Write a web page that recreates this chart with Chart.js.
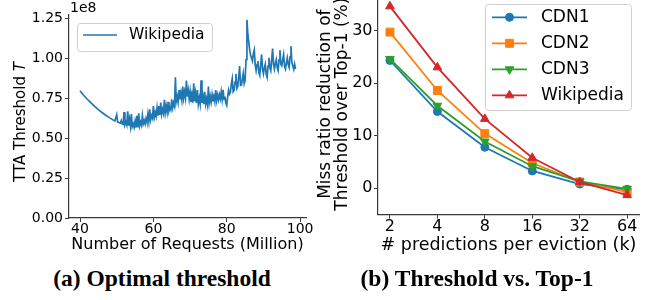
<!DOCTYPE html>
<html>
<head>
<meta charset="utf-8">
<script src="https://cdn.jsdelivr.net/npm/chart.js@4.4.1/dist/chart.umd.min.js"></script>
<style>
html,body{margin:0;padding:0;background:#fff;width:651px;height:300px;overflow:hidden;position:relative;}
#wrapA{position:absolute;left:0;top:0;width:320px;height:262px;}
#wrapB{position:absolute;left:300px;top:-20px;width:351px;height:290px;}
.cap{position:absolute;font-family:"Liberation Serif","Times New Roman",serif;font-weight:bold;font-size:23.5px;line-height:23.5px;white-space:nowrap;text-align:center;color:#000;}
</style>
</head>
<body>
<div id="wrapA"><canvas id="chartA" width="320" height="262"></canvas></div>
<div id="wrapB"><canvas id="chartB" width="351" height="290"></canvas></div>
<div class="cap" style="left:32px;top:267px;width:260px">(a) Optimal threshold</div>
<div class="cap" style="left:347px;top:267px;width:260px">(b) Threshold vs. Top-1</div>
<script>
// ---------- DATA: (a) optimal TTA threshold over time (units of 1e8) ----------
const requestsM = [
  40, 41, 42, 43, 44, 45, 46, 47, 48, 49, 49.5,
  50, 50.25, 50.5, 50.75, 51, 51.25, 51.5, 51.75, 52, 52.25, 52.5, 52.75,
  53, 53.25, 53.5, 53.75, 54, 54.25, 54.5, 54.75, 55, 55.25, 55.5, 55.75,
  56, 56.25, 56.5, 56.75, 57, 57.25, 57.5, 57.75, 58, 58.25, 58.5, 58.75,
  59, 59.25, 59.5, 59.75, 60, 60.25, 60.5, 60.75, 61, 61.25, 61.5, 61.75,
  62, 62.25, 62.5, 62.75, 63, 63.25, 63.5, 63.75, 64, 64.25, 64.5, 64.75,
  65, 65.25, 65.5, 65.75, 66, 66.25, 66.5, 66.75, 67, 67.25, 67.5, 67.75,
  68, 68.25, 68.5, 68.75, 69, 69.25, 69.5, 69.75, 70, 70.25, 70.5, 70.75,
  71, 71.25, 71.5, 71.75, 72, 72.25, 72.5, 72.75, 73, 73.25, 73.5, 73.75,
  74, 74.25, 74.5, 74.75, 75, 75.25, 75.5, 75.75, 76, 76.25, 76.5, 76.75,
  77, 77.25, 77.5, 77.75, 78, 78.25, 78.5, 78.75, 79, 79.25, 79.5, 79.75,
  80, 80.25, 80.5, 80.75, 81, 81.25, 81.5, 81.75, 82, 82.25, 82.5, 82.75,
  83, 83.25, 83.5, 83.75, 84, 84.25, 84.5, 84.75, 85, 85.25, 85.5, 85.75,
  86, 86.25, 86.5, 86.75, 87, 87.25, 87.5, 87.75, 88, 88.25, 88.5, 88.75,
  89, 89.25, 89.5, 89.75, 90, 90.25, 90.5, 90.75, 91, 91.25, 91.5, 91.75,
  92, 92.25, 92.5, 92.75, 93, 93.25, 93.5, 93.75, 94, 94.25, 94.5, 94.75,
  95, 95.25, 95.5, 95.75, 96, 96.25, 96.5, 96.75, 97, 97.25, 97.5, 97.75,
  98, 98.25, 98.5, 98.75
];
const thresholdE8 = [
  0.795, 0.768, 0.743, 0.720, 0.698, 0.678, 0.660, 0.643, 0.628, 0.614, 0.607,
  0.646, 0.600, 0.598, 0.596, 0.594, 0.610, 0.589, 0.586, 0.662, 0.584, 0.600, 0.581,
  0.667, 0.578, 0.620, 0.575, 0.650, 0.572, 0.590, 0.568, 0.605, 0.566, 0.640, 0.566,
  0.655, 0.576, 0.600, 0.580, 0.640, 0.590, 0.610, 0.588, 0.622, 0.600, 0.650, 0.605,
  0.680, 0.615, 0.640, 0.625, 0.700, 0.630, 0.660, 0.636, 0.690, 0.640, 0.700, 0.645,
  0.722, 0.650, 0.680, 0.655, 0.740, 0.660, 0.700, 0.662, 0.726, 0.670, 0.690, 0.676,
  0.742, 0.690, 0.720, 0.700, 0.880, 0.730, 0.760, 0.725, 0.800, 0.742, 0.780, 0.738,
  0.822, 0.750, 0.790, 0.752, 0.860, 0.760, 0.800, 0.745, 0.792, 0.725, 0.770, 0.722,
  0.842, 0.730, 0.780, 0.720, 0.800, 0.712, 0.750, 0.715, 0.862, 0.720, 0.760, 0.712,
  0.790, 0.712, 0.745, 0.710, 0.822, 0.722, 0.760, 0.725, 0.772, 0.730, 0.760, 0.728,
  0.800, 0.736, 0.770, 0.740, 0.772, 0.745, 0.790, 0.742, 0.802, 0.742, 0.760, 0.720,
  0.705, 0.760, 0.800, 0.775, 0.786, 0.840, 0.872, 0.790, 0.800, 0.850, 0.902, 0.810,
  0.822, 0.880, 0.950, 0.830, 0.832, 0.870, 0.905, 0.840, 0.860, 0.990, 1.240, 1.150,
  1.100, 1.050, 1.020, 1.000, 0.982, 1.030, 1.052, 0.960, 0.922, 0.960, 0.982, 0.910,
  0.892, 0.960, 1.022, 0.930, 0.902, 0.940, 0.962, 0.900, 0.880, 0.950, 1.002, 0.940,
  0.922, 0.990, 1.060, 0.960, 0.932, 0.970, 0.992, 0.940, 0.922, 0.990, 1.050, 0.960,
  0.952, 0.990, 1.022, 0.950, 0.932, 0.970, 1.002, 0.960, 0.942, 1.010, 1.075, 0.970,
  0.952, 0.930, 0.962, 0.932
];
const xTicksA = [40, 60, 80, 100];
const yTicksA = [0, 0.25, 0.5, 0.75, 1.0, 1.25];

// ---------- DATA: (b) miss ratio reduction of Threshold over Top-1 (%) ----------
const kValues = [2, 4, 8, 16, 32, 64];
const cdn1 = [24.3, 14.6, 7.8, 3.3, 0.8, -0.2];
const cdn2 = [29.7, 18.6, 10.4, 4.8, 1.2, -0.7];
const cdn3 = [24.6, 15.7, 8.9, 4.2, 1.3, -0.1];
const wikipedia = [34.6, 23.0, 13.2, 5.8, 1.2, -1.3];
const yTicksB = [0, 10, 20, 30];

Chart.defaults.font.family = "'DejaVu Sans', sans-serif";
Chart.defaults.color = '#000';
const AX = '#3a3a3a';
const FONT = "'DejaVu Sans', sans-serif";

function rrect(ctx, x, y, w, h, r) {
  ctx.beginPath();
  ctx.moveTo(x + r, y);
  ctx.lineTo(x + w - r, y); ctx.arcTo(x + w, y, x + w, y + r, r);
  ctx.lineTo(x + w, y + h - r); ctx.arcTo(x + w, y + h, x + w - r, y + h, r);
  ctx.lineTo(x + r, y + h); ctx.arcTo(x, y + h, x, y + h - r, r);
  ctx.lineTo(x, y + r); ctx.arcTo(x, y, x + r, y, r);
  ctx.closePath();
}

const boxLegend = {
  id: 'boxLegend',
  afterDraw(chart, args, o) {
    const ctx = chart.ctx;
    ctx.save();
    rrect(ctx, o.x, o.y, o.w, o.h, 3);
    ctx.fillStyle = 'rgba(255,255,255,0.85)';
    ctx.fill();
    ctx.strokeStyle = '#d0d0d0';
    ctx.lineWidth = 1;
    ctx.stroke();
    chart.data.datasets.forEach((ds, i) => {
      const cy = o.firstY + i * o.rowH;
      ctx.strokeStyle = ds.borderColor;
      ctx.lineWidth = ds.borderWidth;
      ctx.beginPath();
      ctx.moveTo(o.lineX0, cy);
      ctx.lineTo(o.lineX1, cy);
      ctx.stroke();
      if (ds.pointRadius > 0) {
        ctx.fillStyle = ds.backgroundColor;
        ctx.strokeStyle = ds.borderColor;
        ctx.lineWidth = 1;
        Chart.helpers.drawPoint(ctx, {
          pointStyle: ds.pointStyle, rotation: ds.pointRotation || 0,
          radius: ds.pointRadius, borderWidth: 1
        }, (o.lineX0 + o.lineX1) / 2, cy);
      }
      ctx.fillStyle = '#000';
      ctx.font = o.font;
      ctx.textBaseline = 'middle';
      ctx.textAlign = 'left';
      ctx.fillText(ds.label, o.textX, cy);
    });
    ctx.restore();
  }
};

const extraTextA = {
  id: 'extraTextA',
  afterDraw(chart, args, o) {
    const ctx = chart.ctx;
    ctx.save();
    ctx.fillStyle = '#000';
    ctx.font = "14px " + FONT;
    ctx.textBaseline = 'middle';
    ctx.textAlign = 'left';
    ctx.fillText(o.offsetText, 70, 8);
    const fN = "15px " + FONT, fI = "italic 15px " + FONT;
    ctx.font = fN; const w1 = ctx.measureText(o.yTitle).width;
    ctx.font = fI; const w2 = ctx.measureText(o.yTitleSym).width;
    const tot = w1 + w2;
    ctx.translate(21, 122);
    ctx.rotate(-Math.PI / 2);
    ctx.font = fN; ctx.fillText(o.yTitle, -tot / 2, 0);
    ctx.font = fI; ctx.fillText(o.yTitleSym, -tot / 2 + w1, 0);
    ctx.restore();
  }
};

// ---------------- Chart (a) ----------------
new Chart(document.getElementById('chartA'), {
  type: 'line',
  data: {
    datasets: [{
      label: 'Wikipedia',
      data: requestsM.map((x, i) => ({ x: x, y: thresholdE8[i] })),
      borderColor: '#1f77b4',
      backgroundColor: '#1f77b4',
      borderWidth: 1.7,
      pointRadius: 0,
      tension: 0,
      fill: false
    }]
  },
  options: {
    responsive: false,
    animation: false,
    layout: { padding: { top: 15, right: 14, left: 0, bottom: 0 } },
    plugins: {
      legend: { display: false },
      tooltip: { enabled: false },
      boxLegend: { x: 77.5, y: 23.5, w: 135, h: 28, firstY: 35, rowH: 0, lineX0: 83, lineX1: 117, textX: 129, font: "15.5px " + FONT },
      extraTextA: { offsetText: '1e8', yTitle: 'TTA Threshold ', yTitleSym: 'T' }
    },
    scales: {
      x: {
        type: 'linear', min: 37, max: 101.6,
        afterFit: s => { s.height = 44; },
        afterBuildTicks: s => { s.ticks = xTicksA.map(v => ({ value: v })); },
        ticks: { font: { size: 14, lineHeight: 1 }, padding: 0, color: '#000', maxRotation: 0, callback: v => String(v) },
        grid: { display: true, drawOnChartArea: false, drawTicks: true, tickLength: 4, color: AX },
        border: { display: true, color: AX, width: 1.2 },
        title: { display: true, text: 'Number of Requests (Million)', font: { size: 16, lineHeight: 1.2 }, color: '#000', padding: { top: 0, bottom: 7.4 } }
      },
      y: {
        type: 'linear', min: 0, max: 1.27,
        afterFit: s => { s.width = 69; },
        afterBuildTicks: s => { s.ticks = yTicksA.map(v => ({ value: v })); },
        ticks: { font: { size: 14, lineHeight: 1 }, padding: 2, color: '#000', callback: v => Number(v).toFixed(2) },
        grid: { display: true, drawOnChartArea: false, drawTicks: true, tickLength: 4, color: AX },
        border: { display: true, color: AX, width: 1.2 },
        title: { display: false }
      }
    }
  },
  plugins: [boxLegend, extraTextA]
});

// ---------------- Chart (b) ----------------
function series(label, vals, color, style, radius, rot, order) {
  return {
    label: label,
    data: kValues.map((k, i) => ({ x: k, y: vals[i] })),
    borderColor: color,
    backgroundColor: color,
    pointBackgroundColor: color,
    pointBorderColor: color,
    borderWidth: 1.8,
    pointStyle: style,
    pointRadius: radius,
    pointRotation: rot,
    pointBorderWidth: 1,
    tension: 0,
    fill: false,
    order: order
  };
}

new Chart(document.getElementById('chartB'), {
  type: 'line',
  data: {
    datasets: [
      series('CDN1', cdn1, '#1f77b4', 'circle', 4, 0, 3),
      series('CDN2', cdn2, '#ff7f0e', 'rect', 5.6, 0, 2),
      series('CDN3', cdn3, '#2ca02c', 'triangle', 5, 180, 1),
      series('Wikipedia', wikipedia, '#d62728', 'triangle', 5, 0, 0)
    ]
  },
  options: {
    responsive: false,
    animation: false,
    layout: { padding: { top: 13.7, right: 12, left: 0, bottom: 0 } },
    plugins: {
      legend: { display: false },
      tooltip: { enabled: false },
      boxLegend: { x: 185.5, y: 24.5, w: 146, h: 106, firstY: 37.3, rowH: 26, lineX0: 192, lineX1: 227, textX: 241, font: "17px " + FONT }
    },
    scales: {
      x: {
        type: 'logarithmic', min: 1.68, max: 76.1,
        afterFit: s => { s.height = 55.4; },
        afterBuildTicks: s => { s.ticks = kValues.map(v => ({ value: v })); },
        ticks: { font: { size: 16, lineHeight: 1 }, padding: 0, color: '#000', maxRotation: 0, autoSkip: false, callback: v => String(v) },
        grid: { display: true, drawOnChartArea: false, drawTicks: true, tickLength: 4, color: AX },
        border: { display: true, color: AX, width: 1.2 },
        title: { display: true, text: '# predictions per eviction (k)', font: { size: 17.5, lineHeight: 1.2 }, color: '#000', padding: { top: 0, bottom: 14.5 } }
      },
      y: {
        type: 'linear', min: -5, max: 37,
        afterFit: s => { s.width = 78; },
        afterBuildTicks: s => { s.ticks = yTicksB.map(v => ({ value: v })); },
        ticks: { font: { size: 16, lineHeight: 1 }, padding: 1.5, color: '#000', callback: v => String(v) },
        grid: { display: true, drawOnChartArea: false, drawTicks: true, tickLength: 4, color: AX },
        border: { display: true, color: AX, width: 1.2 },
        title: { display: true, text: ['Miss ratio reduction of', 'Threshold over Top-1 (%)'], font: { size: 17, lineHeight: 1.0 }, color: '#000', padding: { top: 17.5, bottom: 0 } }
      }
    }
  },
  plugins: [boxLegend]
});
</script>
</body>
</html>
